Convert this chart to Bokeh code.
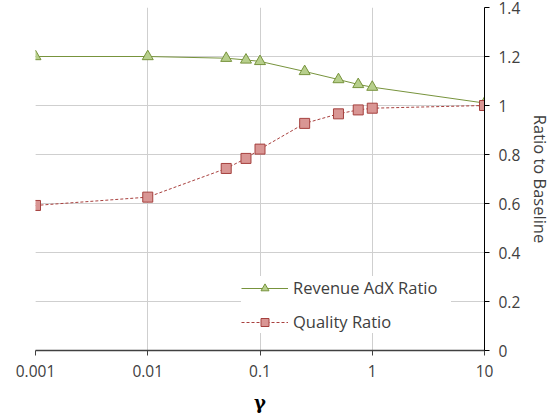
from bokeh.plotting import figure
from bokeh.models import Range1d, LinearAxis, FixedTicker, Legend, LegendItem, Grid
from bokeh.embed import file_html
from bokeh.resources import INLINE

gamma = [0.001, 0.01, 0.05, 0.075, 0.1, 0.25, 0.5, 0.75, 1, 10]
revenue_adx = [1.2, 1.2, 1.193, 1.186, 1.18, 1.139, 1.106, 1.086, 1.075, 1.01]
quality = [0.592, 0.626, 0.743, 0.784, 0.822, 0.927, 0.966, 0.982, 0.989, 1.0]

x_ticks = [0.001, 0.01, 0.1, 1, 10]
x_labels = ["0.001", "0.01", "0.1", "1", "10"]
y_ticks = [0, 0.2, 0.4, 0.6, 0.8, 1.0, 1.2, 1.4]
y_labels = ["0", "0.2", "0.4", "0.6", "0.8", "1", "1.2", "1.4"]

FONT = "Open Sans"
TXT = "#404040"

p = figure(x_axis_type="log", output_backend="svg", toolbar_location=None,
           frame_width=449, frame_height=343,
           min_border_left=35, min_border_top=7, min_border_right=62, min_border_bottom=60,
           x_range=Range1d(0.001, 10), y_range=Range1d(0, 1.4), y_axis_location=None)
p.outline_line_color = None
p.background_fill_color = "white"

# axes
p.xaxis.ticker = FixedTicker(ticks=x_ticks)
p.xaxis.major_label_overrides = {t: l for t, l in zip(x_ticks, x_labels)}
p.xaxis.minor_tick_line_color = None
p.xaxis.major_tick_in = 0
p.xaxis.major_tick_out = 5
p.xaxis.axis_line_color = "#404040"
p.xaxis.axis_line_width = 1.5
p.xaxis.major_tick_line_color = "#404040"
p.xaxis.major_label_text_font = FONT
p.xaxis.major_label_text_font_size = "15.5px"
p.xaxis.major_label_text_color = TXT
p.xaxis.major_label_standoff = 9
p.xaxis.axis_label = "γ"
p.xaxis.axis_label_text_font = "DejaVu Serif"
p.xaxis.axis_label_text_font_style = "bold"
p.xaxis.axis_label_text_font_size = "18px"
p.xaxis.axis_label_text_color = "black"
p.xaxis.axis_label_standoff = 12

yax = LinearAxis(ticker=FixedTicker(ticks=y_ticks),
                 major_label_overrides={t: l for t, l in zip(y_ticks, y_labels)})
yax.minor_tick_line_color = None
yax.major_tick_in = 0
yax.major_tick_out = 5
yax.axis_line_color = "black"
yax.major_tick_line_color = "black"
yax.major_label_text_font = FONT
yax.major_label_text_font_size = "15.5px"
yax.major_label_text_color = TXT
yax.major_label_standoff = 9
yax.axis_label = "Ratio to Baseline"
yax.axis_label_text_font = FONT
yax.axis_label_text_font_style = "normal"
yax.axis_label_text_font_size = "16.5px"
yax.axis_label_text_color = TXT
yax.axis_label_standoff = 6
p.add_layout(yax, "right")

p.xgrid.ticker = FixedTicker(ticks=x_ticks)
p.xgrid.grid_line_color = "#cfcfcf"
yg = Grid(dimension=1, ticker=FixedTicker(ticks=y_ticks), grid_line_color="#cfcfcf")
p.add_layout(yg)

# series
r1l = p.line(gamma, revenue_adx, line_color="#77933c", line_width=1)
r1m = p.scatter(gamma, revenue_adx, marker="triangle", size=11,
                fill_color="#b7cf8c", line_color="#77933c", line_width=1)
r2l = p.line(gamma, quality, line_color="#a8403e", line_width=1, line_dash="3 2")
r2m = p.scatter(gamma, quality, marker="square", size=10,
                fill_color="#d99694", line_color="#a5403e", line_width=1)

legend = Legend(items=[LegendItem(label="Revenue AdX Ratio", renderers=[r1l, r1m]),
                       LegendItem(label="Quality Ratio", renderers=[r2l, r2m])],
                location=(206, 17), margin=0, padding=10,
                glyph_width=47, glyph_height=20, spacing=11, label_standoff=5,
                label_width=158,
                label_text_font=FONT, label_text_font_size="16.5px", label_text_color=TXT,
                border_line_color=None, background_fill_color="white", background_fill_alpha=1)
p.add_layout(legend, "center")

open("out.html", "w").write(file_html(p, INLINE))
